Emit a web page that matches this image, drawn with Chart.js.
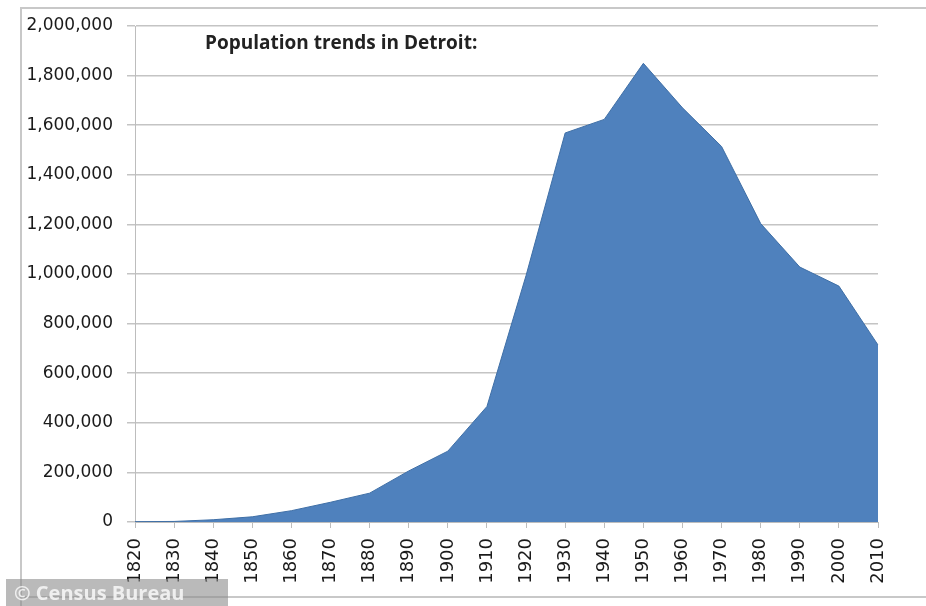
<!DOCTYPE html>
<html>
<head>
<meta charset="utf-8">
<script src="https://cdn.jsdelivr.net/npm/chart.js@4"></script>
<style>
	html, body { margin: 0; padding: 0; background: #fff; }
	#wrap { width: 926px; height: 606px; position: relative; }
</style>
</head>
<body>
<div id="wrap"><canvas id="popChart" width="926" height="606"></canvas></div>
<script>
// census years and Detroit population
var years = ['1820', '1830', '1840', '1850', '1860', '1870', '1880', '1890', '1900', '1910',
	'1920', '1930', '1940', '1950', '1960', '1970', '1980', '1990', '2000', '2010'];
var population = [1422, 2222, 9102, 21019, 45619, 79577, 116340, 205876, 285704, 465766,
	993678, 1568662, 1623452, 1849568, 1670144, 1514063, 1203339, 1027974, 951270, 713777];
var yTicks = [0, 200000, 400000, 600000, 800000, 1000000, 1200000, 1400000, 1600000, 1800000, 2000000];
var chartTitle = 'Population trends in Detroit:';
var credit = '\u00a9 Census Bureau';

var decor = {
	id: 'decor',
	beforeDraw: function(chart) {
		var c = chart.ctx;
		c.save();
		c.fillStyle = '#fff';
		c.fillRect(0, 0, chart.width, chart.height);
		// frame of the sheet
		c.strokeStyle = '#c8c8c8';
		c.lineWidth = 2;
		c.beginPath();
		c.moveTo(21, 606);
		c.lineTo(21, 8);
		c.lineTo(926, 8);
		c.moveTo(21, 597);
		c.lineTo(926, 597);
		c.stroke();
		c.restore();
	},
	afterDraw: function(chart) {
		var c = chart.ctx;
		c.save();
		c.font = 'bold 19px "Open Sans"';
		c.fillStyle = '#222';
		c.textBaseline = 'middle';
		c.fillText(chartTitle, 205, 44);
		// watermark
		c.fillStyle = 'rgba(140,140,140,0.6)';
		c.fillRect(6, 579, 222, 27);
		c.font = 'bold 20px "Open Sans"';
		c.fillStyle = 'rgba(245,245,245,0.9)';
		c.fillText(credit, 14, 594);
		c.restore();
	}
};

var ctx = document.getElementById('popChart');
var popChart = new Chart(ctx, {
	type: 'line',
	data: {
		labels: years,
		datasets: [{
			data: population,
			fill: 'origin',
			backgroundColor: '#4f81bd',
			borderColor: '#3f6fa6',
			borderWidth: 1,
			pointRadius: 0,
			tension: 0
		}]
	},
	plugins: [decor],
	options: {
		responsive: false,
		animation: false,
		layout: { padding: { top: 26, right: 48, left: 0, bottom: 0 } },
		plugins: {
			legend: { display: false },
			tooltip: { enabled: false }
		},
		scales: {
			x: {
				offset: false,
				afterFit: function(s) { s.height = 84; },
				grid: { drawOnChartArea: false, drawTicks: true, tickLength: 6, color: '#bdbdbd' },
				border: { color: '#bdbdbd' },
				ticks: {
					autoSkip: false,
					maxRotation: 90,
					minRotation: 90,
					padding: 10,
					color: '#1a1a1a',
					font: { family: 'DejaVu Sans', size: 18 }
				}
			},
			y: {
				min: 0,
				max: 2000000,
				afterFit: function(s) { s.width = 135; },
				afterBuildTicks: function(s) {
					s.ticks = yTicks.map(function(v) { return { value: v }; });
				},
				grid: { color: '#c4c4c4', tickLength: 8, lineWidth: 1.5 },
				border: { color: '#bdbdbd' },
				ticks: {
					padding: 14,
					color: '#1a1a1a',
					font: { family: 'DejaVu Sans', size: 17 },
					callback: function(v) { return v.toLocaleString('en-US'); }
				}
			}
		}
	}
});
</script>
</body>
</html>
